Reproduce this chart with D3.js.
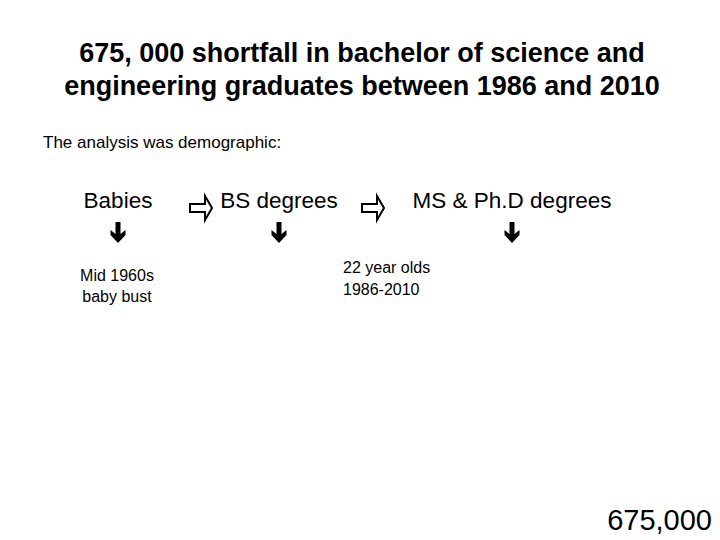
<!DOCTYPE html>
<html>
<head>
<meta charset="utf-8">
<script src="https://cdn.jsdelivr.net/npm/d3@7"></script>
<style>
body { margin: 0; background: #fff; }
text { font-family: "Liberation Sans", Arial, sans-serif; fill: #000; }
</style>
</head>
<body>
<svg id="slide" width="720" height="540"></svg>
<script>
var titleLines = ["675, 000 shortfall in bachelor of science and", "engineering graduates between 1986 and 2010"];
var subtitle = "The analysis was demographic:";
var stages = ["Babies", "BS degrees", "MS & Ph.D degrees"];
var notes = [["Mid 1960s", "baby bust"], [], ["22 year olds", "1986-2010"]];
var total = "675,000";

var svg = d3.select("#slide");
var stageX = [118, 279, 512];
var flowX = [201, 373];

svg.selectAll("text.title").data(titleLines).enter().append("text")
  .attr("class", "title")
  .attr("x", 362).attr("y", function(d, i) { return 62 + i * 33; })
  .attr("text-anchor", "middle").style("font-size", "27px").style("font-weight", "bold")
  .text(function(d) { return d; });

svg.append("text").attr("x", 43).attr("y", 148).style("font-size", "17px").text(subtitle);

svg.selectAll("text.stage").data(stages).enter().append("text")
  .attr("class", "stage")
  .attr("x", function(d, i) { return stageX[i]; }).attr("y", 208)
  .attr("text-anchor", "middle").style("font-size", "22.5px")
  .text(function(d) { return d; });

// hollow flow arrows
svg.selectAll("path.flow").data(flowX).enter().append("path")
  .attr("class", "flow")
  .attr("d", function(x) {
    return "M" + (x - 11) + ",204 h15 v-8 l7,12 l-7,12 v-8 h-15 z";
  })
  .attr("fill", "#fff").attr("stroke", "#000").attr("stroke-width", 2);

// down arrows
svg.selectAll("path.down").data(stageX).enter().append("path")
  .attr("class", "down")
  .attr("d", function(x) {
    return "M" + (x - 2.5) + ",222 h5 v12 l5,-4 v5 l-7.5,8 l-7.5,-8 v-5 l5,4 z";
  })
  .attr("fill", "#000");

// notes
svg.selectAll("text.note0").data(notes[0]).enter().append("text")
  .attr("x", 117).attr("y", function(d, i) { return 281 + i * 21; })
  .attr("text-anchor", "middle").style("font-size", "16px").text(function(d) { return d; });
svg.selectAll("text.note2").data(notes[2]).enter().append("text")
  .attr("x", 343).attr("y", function(d, i) { return 273 + i * 22; })
  .style("font-size", "16px").text(function(d) { return d; });

svg.append("text").attr("x", 712).attr("y", 530).attr("text-anchor", "end")
  .style("font-size", "29px").text(total);
</script>
</body>
</html>
